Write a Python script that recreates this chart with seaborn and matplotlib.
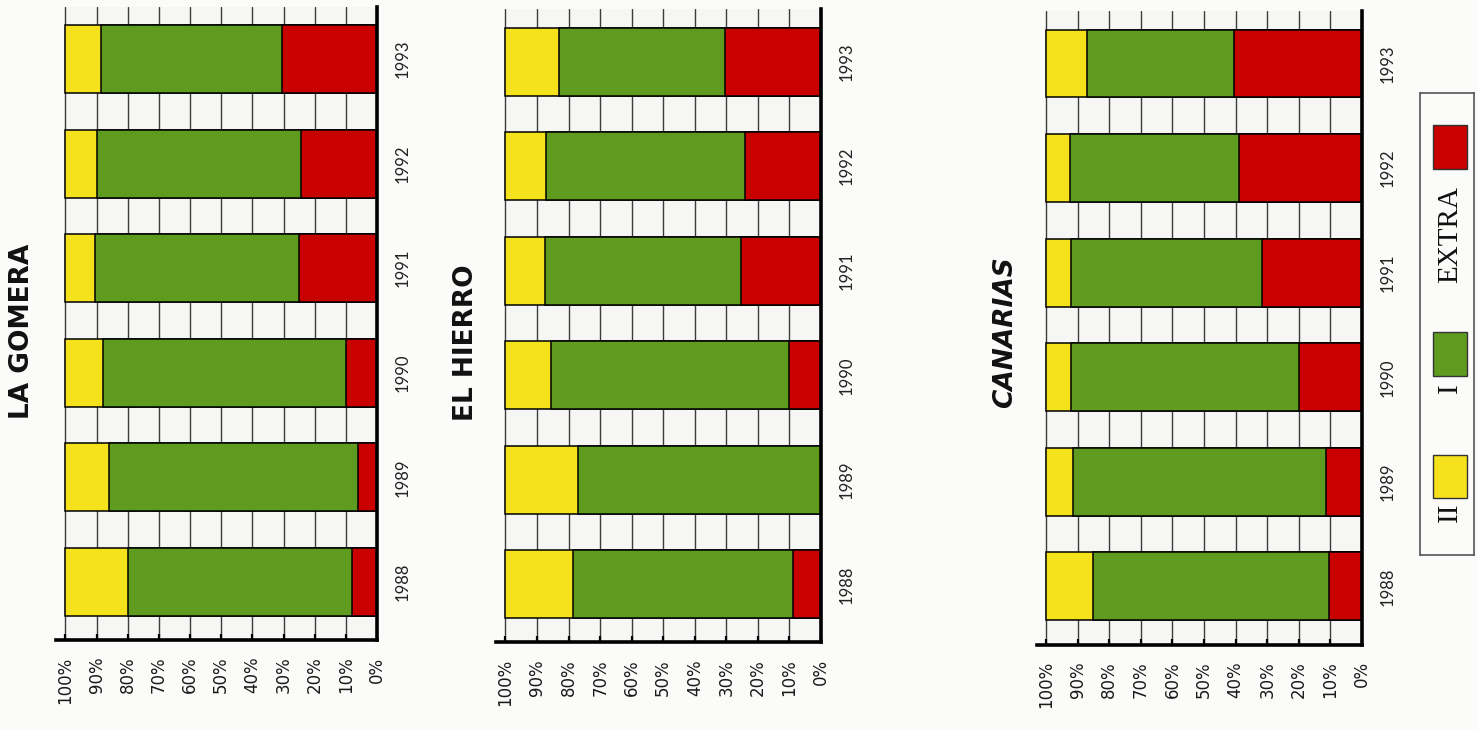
import numpy as np
import pandas as pd
import matplotlib
matplotlib.use("Agg")
import matplotlib.pyplot as plt
from matplotlib import font_manager as fm
from matplotlib.patches import Rectangle
import seaborn as sns

# ---- data: share of each grade (%) per year ----
years = [1988, 1989, 1990, 1991, 1992, 1993]
grades = ["II", "I", "EXTRA"]
islands = ["LA GOMERA", "EL HIERRO", "CANARIAS"]

gomera_ii = [20.0, 14.0, 12.0, 9.5, 10.0, 11.5]
gomera_i = [72.0, 80.0, 78.0, 65.5, 65.5, 58.0]
gomera_extra = [8.0, 6.0, 10.0, 25.0, 24.5, 30.5]

hierro_ii = [21.5, 23.0, 14.5, 12.5, 13.0, 17.0]
hierro_i = [69.5, 77.0, 75.5, 62.0, 63.0, 52.5]
hierro_extra = [9.0, 0.0, 10.0, 25.5, 24.0, 30.5]

canarias_ii = [15.0, 8.5, 8.0, 8.0, 7.5, 13.0]
canarias_i = [74.5, 80.0, 72.0, 60.5, 53.5, 46.5]
canarias_extra = [10.5, 11.5, 20.0, 31.5, 39.0, 40.5]

pct_ticks = list(range(0, 101, 10))
pct_labels = [f"{v}%" for v in pct_ticks]

# ---- style ----
grade_colors = {"II": "#f6e21c", "I": "#5e9b1e", "EXTRA": "#c80000"}
paper = "#fbfbfa"

sns.set_theme(style="white")
names = {f.name for f in fm.fontManager.ttflist}
narrow = "Liberation Sans Narrow" in names
pct_family = ["Liberation Sans Narrow", "DejaVu Sans"] if narrow else ["DejaVu Sans"]
pct_size = 15.5 if narrow else 12
year_family = ["Lato", "DejaVu Sans"]
plt.rcParams["font.family"] = ["DejaVu Sans"]

rows = []
for isl, ii, i1, ex in zip(
    islands,
    [gomera_ii, hierro_ii, canarias_ii],
    [gomera_i, hierro_i, canarias_i],
    [gomera_extra, hierro_extra, canarias_extra],
):
    for y, a, b, c in zip(years, ii, i1, ex):
        rows.append({"island": isl, "year": str(y), "II": a, "I": b, "EXTRA": c})
df = pd.DataFrame(rows)
# stacked extents measured from 0 %: EXTRA, EXTRA+I, EXTRA+I+II
df["cum_extra"] = df["EXTRA"]
df["cum_i"] = df["EXTRA"] + df["I"]
df["cum_ii"] = df["EXTRA"] + df["I"] + df["II"]

order = [str(y) for y in years[::-1]]

fig = plt.figure(figsize=(14.78, 7.31), dpi=100, facecolor=paper)

axes_pos = {
    "LA GOMERA": [0.03789, 0.12449, 0.21719, 0.86635],
    "EL HIERRO": [0.33559, 0.12107, 0.21989, 0.86628],
    "CANARIAS": [0.70129, 0.11833, 0.22023, 0.86635],
}
title_pos = {
    "LA GOMERA": (22, 331, "normal"),
    "EL HIERRO": (466, 343, "normal"),
    "CANARIAS": (1005, 332, "italic"),
}

for isl in islands:
    sub = df[df["island"] == isl]
    ax = fig.add_axes(axes_pos[isl])
    ax.set_facecolor(paper)
    ax.axvspan(0, 100, color="#f6f6f5", zorder=0, lw=0)
    for col, g in [("cum_ii", "II"), ("cum_i", "I"), ("cum_extra", "EXTRA")]:
        sns.barplot(
            data=sub, x=col, y="year", order=order, orient="h",
            color=grade_colors[g], saturation=1, edgecolor="black",
            linewidth=1.1, width=0.65, errorbar=None, ax=ax,
        )
    ax.set_xlim(103, 0)
    ax.set_ylim(5.555, -0.5)
    ax.set_axisbelow(True)
    ax.grid(axis="x", color="#3c3c3c", lw=1.0)
    ax.grid(axis="y", visible=False)
    ax.set_xticks(pct_ticks)
    ax.set_xticklabels(pct_labels, rotation=90, family=pct_family,
                       fontsize=pct_size, color="#1a1a1a")
    ax.tick_params(axis="x", direction="in", length=4, width=1.6,
                   color="black", pad=12, bottom=True)
    ax.yaxis.tick_right()
    ax.set_yticks(range(len(order)))
    ax.set_yticklabels(order, rotation=90, va="center", family=year_family,
                       fontsize=12, color="#222222")
    ax.tick_params(axis="y", length=0, pad=13)
    ax.set_xlabel("")
    ax.set_ylabel("")
    for s in ["top", "left"]:
        ax.spines[s].set_visible(False)
    for s in ["right", "bottom"]:
        ax.spines[s].set_visible(True)
        ax.spines[s].set_color("black")
        ax.spines[s].set_linewidth(2.6)

    tx, ty, style = title_pos[isl]
    fig.text(tx / 1478, 1 - ty / 731, isl, rotation=90, ha="center",
             va="center", fontsize=19, fontweight="bold", style=style,
             family=["DejaVu Sans"], color="#111111")

# legend box, read bottom to top: II, I, EXTRA
lax = fig.add_axes([0.9608, 0.2408, 0.0365, 0.632])
lax.set_xlim(0, 1)
lax.set_ylim(0, 1)
lax.set_xticks([])
lax.set_yticks([])
lax.set_facecolor(paper)
for s in lax.spines.values():
    s.set_color("#555555")
    s.set_linewidth(1.2)
legend_layout = [
    ("II", 0.123, 0.216, 0.093),
    ("I", 0.387, 0.483, 0.361),
    ("EXTRA", 0.835, 0.931, 0.693),
]
for g, y0, y1, ty in legend_layout:
    lax.add_patch(Rectangle((0.24, y0), 0.63, y1 - y0,
                            facecolor=grade_colors[g], edgecolor="#333333",
                            lw=1.0))
    lax.text(0.555, ty, g, rotation=90, ha="center", va="center",
             family=["Liberation Serif", "DejaVu Serif"], fontsize=21,
             color="#111111")

fig.savefig("out.png", dpi=100, facecolor=paper)
